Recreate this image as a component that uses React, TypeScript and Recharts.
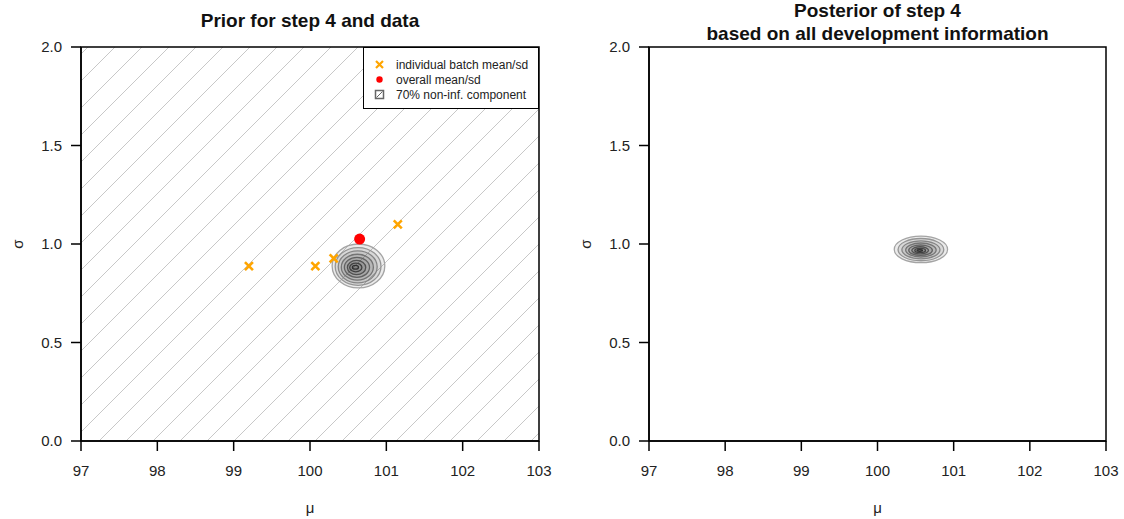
import React from "react";
import {
  ScatterChart,
  Scatter,
  XAxis,
  YAxis,
  ReferenceArea,
  Legend,
  Label,
} from "recharts";

// tick positions
const muTicks = [97, 98, 99, 100, 101, 102, 103];
const sdTicks = [0, 0.5, 1.0, 1.5, 2.0];

// individual batch estimates and the pooled estimate
const batchPoints = [
  { mu: 99.2, sd: 0.888 },
  { mu: 100.07, sd: 0.888 },
  { mu: 100.31, sd: 0.927 },
  { mu: 101.15, sd: 1.1 },
];
const overallPoint = [{ mu: 100.65, sd: 1.025 }];

// density contours, outermost first: extents in (mu, sd)
const priorRings = [
  { muLo: 100.29, muHi: 100.98, sdLo: 0.777, sdHi: 1.0 },
  { muLo: 100.33, muHi: 100.93, sdLo: 0.79, sdHi: 0.982 },
  { muLo: 100.37, muHi: 100.88, sdLo: 0.803, sdHi: 0.965 },
  { muLo: 100.41, muHi: 100.83, sdLo: 0.817, sdHi: 0.948 },
  { muLo: 100.45, muHi: 100.78, sdLo: 0.831, sdHi: 0.932 },
  { muLo: 100.49, muHi: 100.73, sdLo: 0.845, sdHi: 0.917 },
  { muLo: 100.52, muHi: 100.68, sdLo: 0.859, sdHi: 0.903 },
  { muLo: 100.555, muHi: 100.635, sdLo: 0.872, sdHi: 0.892 },
];
const posteriorRings = [
  { muLo: 100.22, muHi: 100.92, sdLo: 0.905, sdHi: 1.04 },
  { muLo: 100.27, muHi: 100.87, sdLo: 0.915, sdHi: 1.028 },
  { muLo: 100.32, muHi: 100.82, sdLo: 0.925, sdHi: 1.016 },
  { muLo: 100.37, muHi: 100.77, sdLo: 0.934, sdHi: 1.005 },
  { muLo: 100.41, muHi: 100.72, sdLo: 0.942, sdHi: 0.995 },
  { muLo: 100.45, muHi: 100.67, sdLo: 0.95, sdHi: 0.986 },
  { muLo: 100.49, muHi: 100.63, sdLo: 0.957, sdHi: 0.978 },
  { muLo: 100.52, muHi: 100.59, sdLo: 0.963, sdHi: 0.971 },
];

const legendItems = [
  "individual batch mean/sd",
  "overall mean/sd",
  "70% non-inf. component",
];

const FONT = "'Liberation Sans', Arial, sans-serif";
const ringStroke = ["#a4a4a4", "#959595", "#858585", "#747474", "#626262", "#515151", "#404040", "#303030"];

const Ellipse = (props: any) => {
  const { x, y, width, height, stroke } = props;
  return (
    <ellipse
      cx={x + width / 2}
      cy={y + height / 2}
      rx={width / 2}
      ry={height / 2}
      fill="rgba(0,0,0,0.08)"
      stroke={stroke}
      strokeWidth={1.3}
    />
  );
};

const Cross = (props: any) => {
  const { cx, cy } = props;
  const r = 4;
  return (
    <path
      d={`M${cx - r},${cy - r}L${cx + r},${cy + r}M${cx - r},${cy + r}L${cx + r},${cy - r}`}
      stroke="#FFA500"
      strokeWidth={2.6}
      fill="none"
    />
  );
};

const Dot = (props: any) => <circle cx={props.cx} cy={props.cy} r={5.5} fill="#FF0000" />;

const LegendBox = () => (
  <div
    style={{
      boxSizing: "border-box",
      width: 176,
      height: 62,
      border: "1.5px solid #000",
      background: "#fff",
      fontFamily: FONT,
      fontSize: 12,
      color: "#222",
      paddingTop: 9,
    }}
  >
    {legendItems.map((t, i) => (
      <div key={t} style={{ display: "flex", alignItems: "center", height: 15 }}>
        <svg width={32} height={15}>
          {i === 0 && (
            <path d="M12,4L19,11M12,11L19,4" stroke="#FFA500" strokeWidth={2.2} />
          )}
          {i === 1 && <circle cx={15.5} cy={7.5} r={3.2} fill="#FF0000" />}
          {i === 2 && (
            <g>
              <rect x={11.5} y={3.5} width={8} height={8} fill="#fff" stroke="#666" strokeWidth={1.5} />
              <path d="M12.5,10.5L18.5,4.5" stroke="#666" strokeWidth={1} />
            </g>
          )}
        </svg>
        <span>{t}</span>
      </div>
    ))}
  </div>
);

const sigmaLabel = (gap: number) => (props: any) => {
  const { viewBox } = props;
  const x = viewBox.x + viewBox.width - gap;
  const y = viewBox.y + viewBox.height / 2;
  return (
    <text x={x} y={y} transform={`rotate(-90 ${x} ${y})`} textAnchor="middle" dominantBaseline="central" fontSize={15} fill="#222" fontFamily={FONT}>
      σ
    </text>
  );
};

const axisStroke = { stroke: "#000", strokeWidth: 1.5 };
const tickStyle = { fill: "#222", fontSize: 15, fontFamily: FONT };

function Panel({
  yWidth,
  right,
  rings,
  hatched,
  children,
}: {
  yWidth: number;
  right: number;
  rings: typeof priorRings;
  hatched: boolean;
  children?: React.ReactNode;
}) {
  return (
    <ScatterChart width={562} height={519} margin={{ top: 47, right, bottom: 0, left: 0 }}>
      <XAxis
        type="number"
        dataKey="mu"
        domain={[97, 103]}
        allowDataOverflow
        ticks={muTicks}
        interval={0}
        height={78}
        tickSize={10}
        tickMargin={14}
        axisLine={axisStroke}
        tickLine={axisStroke}
        tick={tickStyle}
      >
        <Label value="μ" position="insideBottom" offset={6} fontSize={15} fill="#222" fontFamily={FONT} />
      </XAxis>
      <YAxis
        type="number"
        dataKey="sd"
        domain={[0, 2]}
        allowDataOverflow
        ticks={sdTicks}
        interval={0}
        width={yWidth}
        tickSize={10}
        tickMargin={9}
        axisLine={axisStroke}
        tickLine={axisStroke}
        tick={tickStyle}
        tickFormatter={(v: number) => v.toFixed(1)}
      >
        <Label content={sigmaLabel(64)} />
      </YAxis>
      <ReferenceArea
        x1={97}
        x2={103}
        y1={0}
        y2={2}
        fill={hatched ? "url(#hatch)" : "none"}
        fillOpacity={1}
        stroke="#000"
        strokeWidth={1.5}
      />
      {rings.map((r, i) => (
        <ReferenceArea
          key={i}
          x1={r.muLo}
          x2={r.muHi}
          y1={r.sdLo}
          y2={r.sdHi}
          stroke={ringStroke[i]}
          shape={<Ellipse stroke={ringStroke[i]} />}
        />
      ))}
      {children}
    </ScatterChart>
  );
}

export default function App() {
  return (
    <div style={{ position: "absolute", left: 0, top: 0, width: 1124, height: 519, background: "#fff", fontFamily: FONT }}>
      <svg width={0} height={0} style={{ position: "absolute" }}>
        <defs>
          <pattern id="hatch" patternUnits="userSpaceOnUse" width={27} height={27}>
            <path d="M0,27L27,0M-7,7L7,-7M20,34L34,20" stroke="#c8c8c8" strokeWidth={1} />
          </pattern>
        </defs>
      </svg>
      <div style={{ position: "absolute", left: 0, top: 0 }}>
        <Panel yWidth={81} right={23} rings={priorRings} hatched>
          <Scatter data={batchPoints} shape={<Cross />} isAnimationActive={false} />
          <Scatter data={overallPoint} shape={<Dot />} isAnimationActive={false} />
          <Legend
            layout="horizontal"
            verticalAlign="middle"
            align="center"
            content={() => <LegendBox />}
            wrapperStyle={{ left: 363, top: 47, width: 176, height: 62 }}
          />
        </Panel>
      </div>
      <div style={{ position: "absolute", left: 562, top: 0 }}>
        <Panel yWidth={87} right={18} rings={posteriorRings} hatched={false}>
          <Scatter data={[]} isAnimationActive={false} />
        </Panel>
      </div>
      <div style={{ position: "absolute", left: 81, width: 458, top: 10, textAlign: "center", fontWeight: "bold", fontSize: 19, lineHeight: "22px", color: "#111" }}>
        Prior for step 4 and data
      </div>
      <div style={{ position: "absolute", left: 649, width: 457, top: -1, textAlign: "center", fontWeight: "bold", fontSize: 19, lineHeight: "23px", color: "#111" }}>
        Posterior of step 4
        <br />
        based on all development information
      </div>
    </div>
  );
}
